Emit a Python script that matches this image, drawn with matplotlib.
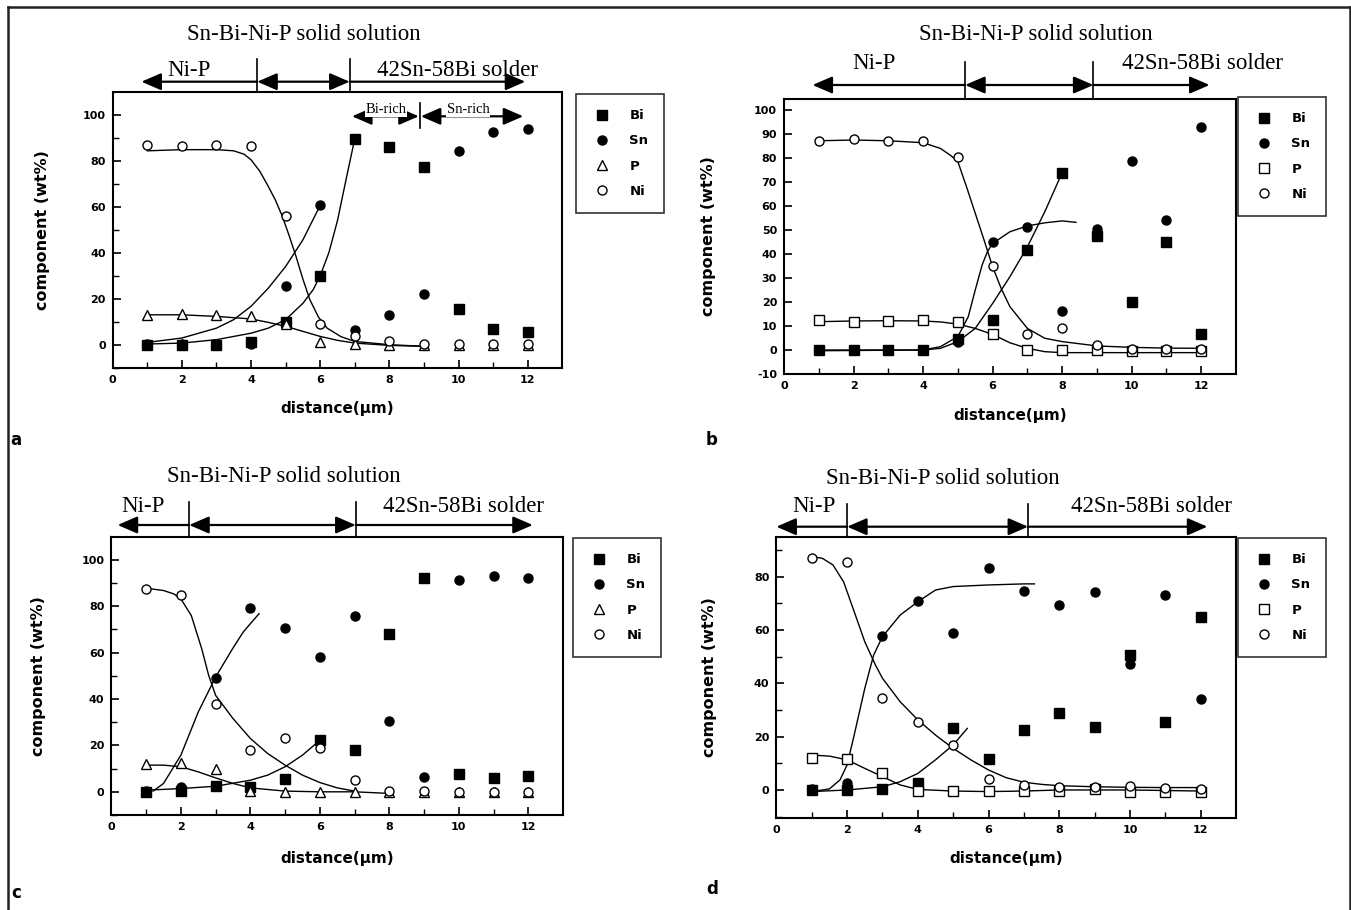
import matplotlib
matplotlib.use("Agg")
import matplotlib.pyplot as plt
import matplotlib.transforms as mtransforms
from matplotlib.lines import Line2D

plt.rcParams["axes.unicode_minus"] = False

W, H = 1351, 910

# measured points, wt% against distance (um)
distance = [1, 2, 3, 4, 5, 6, 7, 8, 9, 10, 11, 12]

# a
a_bi = [0, 0, 0, 1, 9.7, 30, 89.6, 86, 77.2, 15.5, 7, 5.4]
a_sn = [0.3, 0.3, 0.3, 0.5, 25.7, 60.6, 6.5, 13, 22, 84, 92.3, 93.9]
a_p = [13, 13.5, 13, 12.5, 9, 1, 0.3, 0, 0, 0, 0, 0]
a_ni = [87, 86.2, 87, 86.2, 55.8, 9, 3.6, 1.4, 0.5, 0.5, 0.5, 0.5]
# fitted curves
a_ni_fit_x = [1, 2, 3, 3.5, 3.8, 4, 4.25, 4.5, 4.7, 4.9, 5.1, 5.3, 5.5, 5.7, 5.95, 6.2, 6.6, 7, 8, 9]
a_ni_fit_y = [84.3, 84.8, 84.8, 84.3, 82.8, 80.4, 75.5, 68.8, 63, 56, 47.5, 38.4, 28.5, 19.6, 12, 7.2,
              3.5, 1.4, 0, -0.7]
a_sn_fit_x = [1, 2, 3, 3.5, 4, 4.5, 5, 5.5, 6]
a_sn_fit_y = [1, 2.9, 7.2, 10.9, 16.7, 24.6, 34, 45.6, 60.6]
a_bi_fit_x = [1, 2, 3, 4, 4.5, 5, 5.5, 5.8, 6, 6.25, 6.5, 6.75, 7]
a_bi_fit_y = [0.3, 0.7, 2.2, 5, 7.2, 10.9, 18, 24, 30, 40, 54, 72, 89.6]
a_p_fit_x = [1, 2, 3, 4, 4.5, 5, 5.5, 6, 6.5, 7, 8, 9]
a_p_fit_y = [13, 13, 12.3, 11.2, 9.7, 8, 5.8, 3.6, 1.9, 0.7, -0.3, -0.7]

# b
b_bi = [0, 0, 0, 0, 4.5, 12.5, 41.7, 73.9, 47.5, 20.1, 44.9, 6.5]
b_sn = [0, 0, 0, 0, 3.5, 45.1, 51.1, 16.4, 50.3, 78.9, 54.2, 92.8]
b_p = [12.5, 11.8, 12.2, 12.5, 11.5, 6.7, 0, 0, 0, -0.4, -0.4, -0.4]
b_ni = [87.2, 87.9, 87.2, 87, 80.3, 35, 6.5, 9, 2, 0.4, 0.4, 0.4]
b_ni_fit_x = [1, 2, 3, 4, 4.5, 4.8, 5, 5.25, 5.5, 5.75, 6, 6.25, 6.5, 7, 7.5, 8, 9, 10, 11, 12]
b_ni_fit_y = [87.2, 87.5, 87.2, 86.4, 84, 81, 78.5, 68, 57, 46, 34.7, 25.5, 18, 9, 4.9, 3.5, 1.7,
              1.1, 0.8, 0.7]
b_sn_fit_x = [1, 4, 4.5, 5, 5.3, 5.5, 5.7, 5.85, 6, 6.5, 7, 7.5, 8, 8.4]
b_sn_fit_y = [0, 0, 1.4, 5.6, 13.9, 25, 35.5, 41, 44.4, 49.3, 51.7, 53, 53.8, 53.2]
b_bi_fit_x = [1, 4, 4.5, 5, 5.5, 6, 6.5, 7, 7.5, 8]
b_bi_fit_y = [-0.3, 0, 0.7, 3.5, 9, 19.4, 30.6, 43, 57.6, 73.9]
b_p_fit_x = [1, 2, 3, 4, 4.5, 5, 5.5, 6, 6.5, 7, 7.5, 8, 9, 10, 11, 12]
b_p_fit_y = [11.8, 12.1, 12.2, 12.1, 11.7, 10.8, 9, 6.5, 3, 0.7, -0.7, -1.1, -1.1, -1.1, -1.1, -1.1]

# c
c_bi = [0, 0.3, 2.4, 2, 5.5, 22.2, 17.9, 68.1, 92.4, 7.6, 6, 6.7]
c_sn = [0.3, 2.2, 49, 79.2, 70.6, 58.1, 76, 30.6, 6.2, 91.4, 93, 92]
c_p = [12.2, 12.6, 9.8, 0.3, 0, 0, 0, 0, 0, 0, 0, 0]
c_ni = [87.5, 84.9, 38, 17.9, 23.2, 18.9, 5.3, 0.3, 0.3, 0, 0, 0]
c_ni_fit_x = [1, 1.5, 1.8, 2, 2.3, 2.6, 2.8, 3, 3.5, 4, 4.5, 5, 5.5, 6, 6.5, 7]
c_ni_fit_y = [87.8, 86.8, 85.3, 83.2, 76, 61.7, 50.2, 41.6, 31.6, 23, 16.5, 11.5, 7.2, 4, 1.7, 0.3]
c_sn_fit_x = [1.2, 1.5, 2, 2.5, 3, 3.5, 3.8, 4, 4.25]
c_sn_fit_y = [0.3, 3.6, 15.8, 34.4, 49.5, 62, 69, 72.5, 76.8]
c_bi_fit_x = [1, 2, 3, 4, 4.5, 5, 5.5, 6]
c_bi_fit_y = [0.7, 1.4, 2.4, 5, 7.2, 10.8, 15.8, 22.2]
c_p_fit_x = [1, 1.5, 2, 2.5, 3, 3.5, 4, 5, 6, 7, 8]
c_p_fit_y = [11.5, 11.5, 10.8, 8.6, 6, 3.6, 1.7, 0.3, 0, 0, -0.7]

# d
d_bi = [0, 0, 0.2, 2.7, 23.4, 11.6, 22.5, 29, 23.8, 50.6, 25.4, 65]
d_sn = [0.2, 2.5, 57.9, 70.9, 58.8, 83.4, 74.6, 69.4, 74.1, 47.2, 73.1, 34.1]
d_p = [11.9, 11.5, 6.2, -0.4, -0.4, -0.4, -0.4, -0.4, 0.5, -0.6, -0.6, -0.6]
d_ni = [87.1, 85.4, 34.6, 25.6, 16.9, 4.1, 1.9, 1.2, 1.2, 1.5, 0.6, 0.2]
d_ni_fit_x = [1, 1.3, 1.6, 1.9, 2.2, 2.5, 2.8, 3, 3.5, 4, 4.5, 5, 5.5, 6, 6.5, 7, 7.5, 8, 9, 10,
              11, 12]
d_ni_fit_y = [87.5, 86.9, 84.4, 78.1, 66.9, 55.6, 46.9, 41.9, 33.1, 26.3, 20.6, 15.6, 11.3,
              7.5, 4.6, 2.9, 2.1, 1.6, 1.2, 1, 0.9, 0.9]
d_sn_fit_x = [1, 1.5, 1.8, 2, 2.2, 2.5, 2.75, 3, 3.5, 4, 4.5, 5, 6, 7, 7.3]
d_sn_fit_y = [-0.6, 0.4, 3.8, 9.4, 20.6, 38.1, 50.6, 57.5, 65.6, 70.6, 75, 76.3, 76.9, 77.3, 77.3]
d_bi_fit_x = [1, 2, 3, 3.5, 4, 4.5, 5, 5.4]
d_bi_fit_y = [-0.6, 0, 1.2, 3.1, 6.2, 11.3, 16.9, 23.1]
d_p_fit_x = [1, 1.5, 2, 2.5, 3, 3.5, 4, 5, 6, 7, 8, 10, 12]
d_p_fit_y = [13.1, 12.7, 11.3, 8.1, 5, 1.9, 0.2, -0.4, -0.6, -0.4, 0, 0, -0.4]

labels = ["Bi", "Sn", "P", "Ni"]

SANS = "DejaVu Sans"
SERIF = "Liberation Serif"


def fy(py):
    return 1 - py / H


def seg(ax, tr, x0, x1, y, style):
    # horizontal arrow with solid heads
    ax.annotate("", xy=(x1, y), xytext=(x0, y), xycoords=tr, textcoords=tr,
                arrowprops=dict(arrowstyle=style + ",head_length=0.6,head_width=0.26",
                                color="black", lw=1.6, shrinkA=0, shrinkB=0,
                                mutation_scale=20),
                annotation_clip=False)


def panel(fig, box, xlim, ylim, yticks, yminor, pts, fits, p_marker, leg_xy,
          zones, zone_y, text_y, title_x, nip_x, solder_x, letter, letter_xy, lab_x, lab_y):
    left, top, right, bottom = box
    ax = fig.add_axes([left / W, fy(bottom), (right - left) / W, (bottom - top) / H])
    markers = [dict(marker="s", color="black", ls="none"),
               dict(marker="o", color="black", ls="none"),
               dict(marker=p_marker, mfc="white", mec="black", ls="none", mew=1),
               dict(marker="o", mfc="white", mec="black", ls="none", mew=1)]
    for fx_, fy_ in fits:
        ax.plot(fx_, fy_, color="black", lw=1.0)
    handles = []
    for vals, st, lab in zip(pts, markers, labels):
        h, = ax.plot(distance, vals, ms=6.5, label=lab, **st, zorder=3)
        handles.append(h)
    ax.set_xlim(*xlim)
    ax.set_ylim(*ylim)
    ax.set_xticks([0, 2, 4, 6, 8, 10, 12])
    ax.set_xticks([1, 3, 5, 7, 9, 11], minor=True)
    ax.set_yticks(yticks)
    if yminor:
        ax.set_yticks(yminor, minor=True)
    ax.tick_params(which="both", direction="in", top=False, right=False)
    ax.tick_params(which="major", length=6, width=1.2, labelsize=8, pad=5)
    ax.tick_params(which="minor", length=4, width=1.0)
    for t in ax.get_xticklabels() + ax.get_yticklabels():
        t.set_fontfamily(SANS)
        t.set_fontweight("bold")
    for sp in ax.spines.values():
        sp.set_linewidth(1.5)
    ax.set_xlabel("distance(\u03bcm)", fontfamily=SANS, fontweight="bold", fontsize=11)
    ax.set_ylabel("component (wt%)", fontfamily=SANS, fontweight="bold", fontsize=11.5)
    ax.xaxis.set_label_coords(0.5, lab_y)
    ax.yaxis.set_label_coords(lab_x, 0.5)

    leg = ax.legend(handles=handles, loc="upper left",
                    bbox_to_anchor=(leg_xy[0] / W, fy(leg_xy[1])),
                    bbox_transform=fig.transFigure, borderaxespad=0,
                    frameon=True, fancybox=False, edgecolor="black",
                    prop=dict(family=SANS, weight="bold", size=9.5),
                    labelspacing=0.93, borderpad=1.15, handlelength=1.6,
                    handletextpad=1.3, numpoints=1)
    leg.get_frame().set_linewidth(1.2)

    # region arrows above the plot
    tr = mtransforms.blended_transform_factory(ax.transData, fig.transFigure)
    x_left, x_v1, x_v2, x_right = zones
    seg(ax, tr, x_v1, x_left, fy(zone_y), "-|>")
    seg(ax, tr, x_v1, x_v2, fy(zone_y), "<|-|>")
    seg(ax, tr, x_v2, x_right, fy(zone_y), "-|>")
    for xv in (x_v1, x_v2):
        ax.plot([xv, xv], [fy(zone_y - 23), fy(top)], transform=tr, color="black",
                lw=1.2, clip_on=False)
    ax.text(title_x, fy(text_y[0]), "Sn-Bi-Ni-P solid solution", transform=tr,
            ha="center", va="center", fontfamily=SERIF, fontsize=16.5)
    ax.text(nip_x, fy(text_y[1]), "Ni-P", transform=tr, ha="center", va="center",
            fontfamily=SERIF, fontsize=16.5)
    ax.text(solder_x, fy(text_y[1]), "42Sn-58Bi solder", transform=tr, ha="center",
            va="center", fontfamily=SERIF, fontsize=16.5)
    fig.text(letter_xy[0] / W, fy(letter_xy[1]), letter, fontfamily=SANS,
             fontweight="bold", fontsize=12, ha="center", va="center")
    return ax


fig = plt.figure(figsize=(W / 100, H / 100), dpi=100)

ax_a = panel(fig, (112.7, 91.7, 562.3, 367.7), (0, 13), (-10, 110), [0, 20, 40, 60, 80, 100],
             [-10, 10, 30, 50, 70, 90],
             [a_bi, a_sn, a_p, a_ni],
             [(a_ni_fit_x, a_ni_fit_y), (a_sn_fit_x, a_sn_fit_y),
              (a_bi_fit_x, a_bi_fit_y), (a_p_fit_x, a_p_fit_y)],
             "^", (576, 94), (0.83, 4.18, 6.85, 11.93), 81.7, (35, 71),
             5.53, 2.22, 9.96, "a", (16, 440), -0.14, -0.12)
# Bi-rich / Sn-rich split inside plot a
seg(ax_a, ax_a.transData, 7.9, 6.92, 99.3, "-|>")
seg(ax_a, ax_a.transData, 7.9, 8.85, 99.3, "-|>")
seg(ax_a, ax_a.transData, 8.91, 11.87, 99.3, "<|-|>")
ax_a.plot([8.88, 8.88], [94.3, 105.2], color="black", lw=1.2)
ax_a.text(7.9, 102.3, "Bi-rich", ha="center", va="center", fontfamily=SERIF, fontsize=10.5,
          bbox=dict(fc="white", ec="none", pad=0.5))
ax_a.text(10.27, 102.3, "Sn-rich", ha="center", va="center", fontfamily=SERIF, fontsize=10.5,
          bbox=dict(fc="white", ec="none", pad=0.5))

panel(fig, (784, 99, 1236, 374), (0, 13), (-10, 104.6), list(range(-10, 101, 10)),
      None,
      [b_bi, b_sn, b_p, b_ni],
      [(b_ni_fit_x, b_ni_fit_y), (b_sn_fit_x, b_sn_fit_y),
       (b_bi_fit_x, b_bi_fit_y), (b_p_fit_x, b_p_fit_y)],
      "s", (1238, 97), (0.82, 5.21, 8.9, 12.24), 85, (35, 63.3),
      7.25, 2.58, 12.04, "b", (712, 440), -0.15, -0.123)

panel(fig, (111.4, 536.7, 563, 815), (0, 13), (-10, 110), [0, 20, 40, 60, 80, 100],
      [-10, 10, 30, 50, 70, 90],
      [c_bi, c_sn, c_p, c_ni],
      [(c_ni_fit_x, c_ni_fit_y), (c_sn_fit_x, c_sn_fit_y),
       (c_bi_fit_x, c_bi_fit_y), (c_p_fit_x, c_p_fit_y)],
      "^", (573, 538), (0.18, 2.24, 7.03, 12.13), 525, (476.7, 506.7),
      4.95, 0.9, 10.13, "c", (16, 893), -0.145, -0.13)

panel(fig, (776.4, 536.7, 1236, 817.7), (0, 13), (-10.4, 95), [0, 20, 40, 60, 80],
      [-10, 10, 30, 50, 70, 90],
      [d_bi, d_sn, d_p, d_ni],
      [(d_ni_fit_x, d_ni_fit_y), (d_sn_fit_x, d_sn_fit_y),
       (d_bi_fit_x, d_bi_fit_y), (d_p_fit_x, d_p_fit_y)],
      "s", (1238, 538), (0.0, 2.0, 7.12, 12.19), 526.7, (478.3, 506.7),
      4.71, 1.07, 10.6, "d", (712, 889), -0.13, -0.118)

# outer frame of the figure
for xs, ys in [((8, 8), (7, 912)), ((8, 1350), (7, 7)), ((1350, 1350), (7, 912))]:
    fig.add_artist(Line2D([x / W for x in xs], [fy(y) for y in ys], color="#222222", lw=1.8))

fig.savefig("out.png", dpi=100)
